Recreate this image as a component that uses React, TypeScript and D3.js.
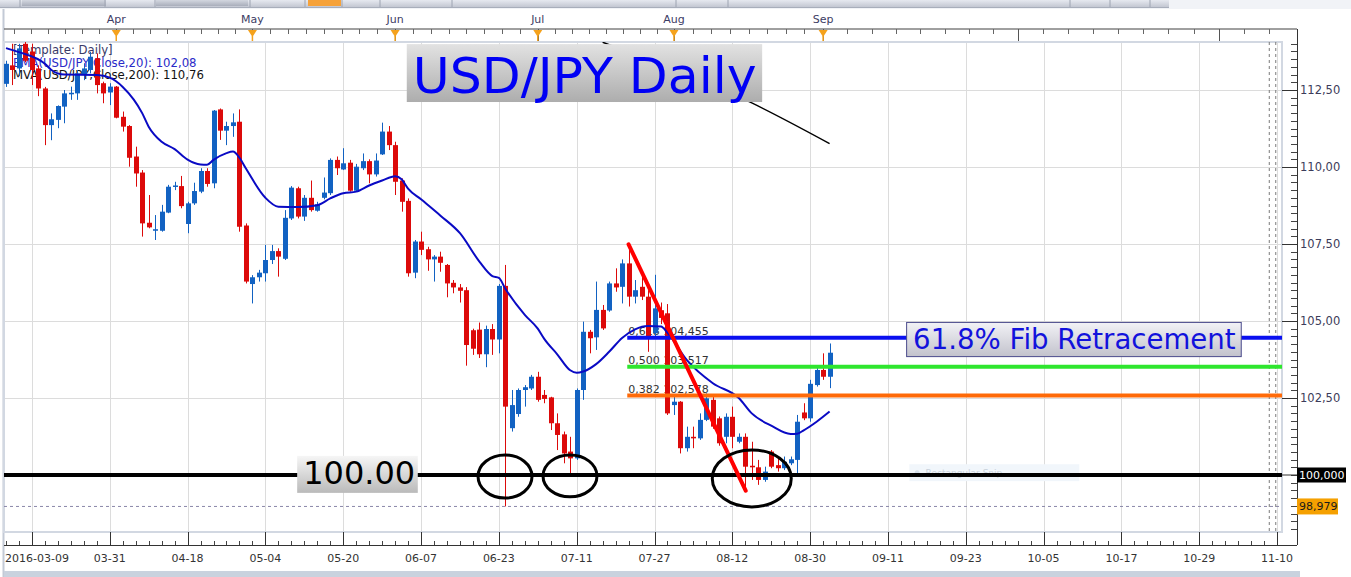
import React from "react";
import * as d3 from "d3";

const W = 1351;
const H = 577;

// ---- Candles (trading-day index 0 = 2016-03-09) ----
const opens = [
  112.7, 113.3, 113.2, 114.0, 113.75, 113.2, 112.55, 111.36, 111.53, 111.96,
  112.36, 112.39, 112.99, 113.15, 113.53, 112.72, 112.42, 112.61, 111.63, 111.33,
  110.34, 109.82, 108.19, 107.93, 107.93, 108.52, 109.36, 109.38, 108.15, 108.82,
  109.2, 109.87, 109.47, 111.87, 111.18, 111.33, 111.47, 108.1, 106.2, 106.42,
  106.55, 106.98, 107.27, 107.02, 108.33, 109.31, 108.39, 109.0, 108.58, 109.0,
  109.15, 110.23, 109.92, 110.14, 109.23, 109.96, 110.19, 109.76, 110.41, 111.15,
  110.71, 109.56, 108.9, 106.57, 107.58, 107.33, 107.0, 107.09, 106.82, 106.24,
  106.09, 106.0, 104.7, 104.72, 103.92, 104.74, 104.4, 106.14, 101.52, 101.98,
  102.76, 102.81, 103.19, 102.6, 102.52, 101.68, 101.32, 100.76, 100.54, 102.76,
  104.65, 104.47, 105.36, 105.34, 106.22, 106.11, 106.87, 105.79, 106.11, 105.79,
  104.6, 105.35, 105.25, 102.27, 102.38, 100.87, 101.24, 101.19, 101.79, 102.44,
  101.84, 101.24, 101.89, 101.08, 101.24, 100.3, 100.25, 99.84, 100.76, 100.32,
  100.22, 100.38, 100.49, 102.03, 101.84, 102.92, 103.41, 103.19,
];
const highs = [
  113.45, 114.0, 114.0, 114.1, 114.0, 113.3, 112.6, 111.74, 112.0, 112.5,
  112.61, 113.15, 113.37, 113.74, 113.69, 112.77, 112.72, 112.63, 111.8, 111.36,
  110.66, 109.9, 109.09, 108.44, 108.77, 109.42, 109.52, 109.71, 108.87, 109.49,
  109.96, 109.96, 111.85, 111.9, 111.47, 111.74, 111.87, 108.17, 106.49, 106.66,
  107.47, 107.47, 107.36, 108.6, 109.38, 109.36, 109.09, 109.56, 108.87, 109.66,
  110.28, 110.34, 110.61, 110.23, 110.1, 110.44, 110.25, 110.44, 111.44, 111.33,
  110.82, 109.63, 108.98, 107.63, 107.9, 107.41, 107.14, 107.25, 106.85, 106.33,
  106.2, 106.1, 104.75, 104.95, 104.85, 104.9, 106.2, 106.82, 102.76, 102.81,
  102.92, 103.25, 103.35, 102.76, 102.54, 102.0, 101.41, 101.24, 102.81, 104.98,
  104.71, 106.28, 105.52, 106.28, 106.71, 107.0, 107.45, 106.33, 106.49, 106.0,
  106.5, 105.6, 105.55, 102.55, 102.4, 101.57, 101.57, 102.0, 102.65, 102.6,
  101.9, 102.0, 102.22, 101.35, 101.35, 101.08, 100.49, 100.27, 100.81, 100.6,
  100.6, 100.6, 101.95, 102.33, 103.09, 103.52, 103.95, 104.27,
];
const lows = [
  112.6, 112.66, 112.95, 113.4, 112.66, 112.3, 110.71, 110.87, 111.26, 111.42,
  112.18, 112.18, 112.82, 113.04, 112.39, 112.07, 112.01, 111.58, 111.15, 110.01,
  109.36, 107.74, 108.01, 107.63, 107.9, 108.5, 109.25, 108.66, 107.85, 108.77,
  109.15, 109.36, 109.31, 110.88, 110.71, 110.98, 107.9, 106.22, 105.57, 106.28,
  106.28, 106.85, 106.44, 106.98, 108.28, 108.33, 108.25, 108.55, 108.55, 108.95,
  109.09, 109.74, 109.9, 109.2, 109.2, 109.9, 109.47, 109.69, 110.39, 110.55,
  109.09, 108.55, 106.44, 106.39, 107.14, 106.63, 106.28, 106.6, 105.77, 105.9,
  105.6, 103.55, 103.9, 103.8, 103.5, 103.9, 103.95, 98.98, 101.41, 101.89,
  102.22, 102.76, 102.38, 102.33, 101.46, 100.81, 100.38, 100.05, 100.49, 102.44,
  103.95, 104.06, 104.71, 105.3, 105.95, 105.57, 105.47, 105.57, 105.68, 104.0,
  104.5, 104.9, 101.95, 101.95, 100.7, 100.76, 100.87, 101.14, 101.75, 101.5,
  100.95, 101.03, 100.87, 101.03, 99.51, 99.84, 99.68, 99.78, 100.22, 100.11,
  100.16, 100.32, 100.0, 101.78, 101.73, 102.87, 103.09, 102.82,
];
const closes = [
  113.35, 113.15, 113.85, 113.45, 113.15, 112.55, 111.36, 111.55, 111.98, 112.39,
  112.41, 113.04, 113.2, 113.58, 112.66, 112.39, 112.61, 111.6, 111.31, 110.3,
  109.79, 108.17, 108.04, 107.98, 108.55, 109.36, 109.4, 108.73, 108.82, 109.22,
  109.87, 109.45, 111.83, 111.18, 111.33, 111.45, 108.06, 106.28, 106.42, 106.57,
  106.98, 107.27, 107.09, 108.35, 109.33, 108.39, 109.0, 108.6, 108.79, 109.17,
  110.23, 109.96, 110.12, 109.23, 110.01, 110.19, 109.76, 110.21, 111.15, 110.71,
  109.52, 108.87, 106.55, 107.58, 107.31, 107.0, 107.09, 106.89, 106.22, 106.09,
  105.98, 104.22, 104.1, 103.92, 104.74, 104.4, 106.14, 102.22, 102.27, 102.76,
  102.85, 103.19, 102.44, 102.47, 101.68, 101.3, 100.7, 100.54, 102.76, 104.65,
  104.44, 105.36, 104.76, 106.22, 106.09, 106.87, 105.79, 106.0, 105.79, 104.5,
  105.41, 105.1, 102.0, 102.38, 100.87, 101.24, 101.19, 101.79, 102.49, 101.57,
  101.03, 101.89, 101.24, 101.24, 100.27, 100.25, 99.84, 100.11, 100.27, 100.22,
  100.43, 100.51, 101.73, 101.84, 102.96, 103.41, 103.19, 103.97,
];

// ---- EMA(20) ----
const emaIdx = [0, 2, 6, 7, 9, 14, 16, 18, 21, 22, 24, 26, 28, 30, 31, 32, 34, 35, 36, 37, 40, 42, 45, 48, 50, 52, 54, 56, 58, 60, 61, 62, 64, 67, 70, 73, 75, 76, 77, 80, 82, 83, 85, 87, 88, 89, 91, 93, 95, 97, 99, 101, 102, 105, 109, 113, 115, 118, 121, 122, 123, 125, 127];
const emaVal = [113.86, 113.73, 113.35, 113.15, 113.0, 112.99, 112.9, 112.6, 111.75, 111.31, 110.82, 110.58, 110.24, 110.08, 110.07, 110.23, 110.45, 110.5, 110.3, 109.95, 109.0, 108.71, 108.7, 108.76, 108.98, 109.15, 109.2, 109.4, 109.56, 109.7, 109.6, 109.3, 108.95, 108.42, 107.85, 106.93, 106.46, 106.4, 106.05, 105.2, 104.75, 104.42, 103.92, 103.4, 103.32, 103.36, 103.6, 104.0, 104.45, 104.73, 104.84, 104.82, 104.62, 103.73, 102.98, 102.5, 102.0, 101.6, 101.33, 101.34, 101.45, 101.73, 102.06];

// ---- MVA(200) visible part ----
const maIdx = [92, 115, 127];
const maVal = [114.05, 112.08, 110.76];

// ---- Axes ----
const firstDateLabel = "2016-03-09";
const dateLabels = ["03-31", "04-18", "05-04", "05-20", "06-07", "06-23", "07-11", "07-27", "08-12", "08-30", "09-11", "09-23", "10-05", "10-17", "10-29", "11-10"];
const dateLabelStart = 16;
const dateStep = 12;
const gridStart = 4;
const lastIdx = 196;

const monthLabels = ["Apr", "May", "Jun", "Jul", "Aug", "Sep", "", ""];
const monthIdx = [17, 38, 60, 82, 103, 126, 156, 187];

const priceTicks = [112.5, 110, 107.5, 105, 102.5];
const priceTickLabels = ["112,50", "110,00", "107,50", "105,00", "102,50"];

// ---- Fibonacci ----
const fibRatios = ["0,618", "0,500", "0,382"];
const fibLevels = [104.455, 103.517, 102.578];
const fibValueLabels = ["104,455", "103,517", "102,578"];
const fibColors = ["#0a10f0", "#2ee62e", "#ff6a08"];
const fibStartIdx = 95.8;

// ---- Annotations (data units) ----
const trendFrom = [96, 107.49];
const trendTo = [114.06, 99.49];
const ellipses = [
  { i: 76.95, p: 99.95, ri: 4.16, rp: 0.7 },
  { i: 86.97, p: 99.97, ri: 4.16, rp: 0.68 },
  { i: 115.0, p: 99.89, ri: 6.09, rp: 0.925 },
];
const lowLevel = 98.979;
const lowLabel = "98,979";
const supportLevel = 100;
const supportLabel = "100,000";
const todayIdx = [194.8, 195.8];

const title = "USD/JPY Daily";
const titleBox = { i0: 61.8, i1: 116.6, p0: 113.99, p1: 112.11 };
const fibText = "61.8% Fib Retracement";
const fibBox = { i0: 138.8, i1: 190.4, p0: 104.97, p1: 103.86 };
const supportText = "100.00";
const supportBox = { i0: 44.9, i1: 63.5, p0: 100.62, p1: 99.42 };

const legendLines = ["[Template: Daily]", "EMA(USD/JPY,Close,20): 102,08", "MVA(USD/JPY,Close,200): 110,76"];
const legendColors = ["#3a3a68", "#2a2ac8", "#111111"];

const FONT = "'DejaVu Sans', Verdana, sans-serif";

export default function App() {
  const plotL = 4, plotR = 1282, plotT = 42, plotB = 532;
  const axisX = 1297;
  const topAxisY = 29;
  const botAxisY = 545;

  const x = d3.scaleLinear().domain([0, 196]).range([6, 1277.06]);
  const y = d3.scaleLinear().domain([100, 112.5]).range([475, 90]);

  const up = "#1262c2";
  const down = "#dc0a0a";

  const idx = d3.range(opens.length);

  const emaPath = d3.line<number>().x((k) => x(emaIdx[k])).y((k) => y(emaVal[k])).curve(d3.curveMonotoneX)(d3.range(emaIdx.length)) || "";
  const maPath = d3.line<number>().x((k) => x(maIdx[k])).y((k) => y(maVal[k])).curve(d3.curveMonotoneX)(d3.range(maIdx.length)) || "";

  const gridIdx = d3.range(gridStart, lastIdx + 0.1, dateStep);
  const minorBottom = d3.range(0, lastIdx + 0.1, 2);

  const topTicks: number[] = [];
  for (let k = 0; k < monthIdx.length - 1; k++) {
    const a = monthIdx[k], b = monthIdx[k + 1];
    for (let j = 0; j < 8; j++) topTicks.push(a + ((b - a) * j) / 8);
  }
  {
    const s0 = (monthIdx[1] - monthIdx[0]) / 8;
    for (let t = monthIdx[0] - s0; t >= 0; t -= s0) topTicks.push(t);
    const n = monthIdx.length;
    const s1 = (monthIdx[n - 1] - monthIdx[n - 2]) / 8;
    for (let t = monthIdx[n - 1]; t <= lastIdx + 2; t += s1) topTicks.push(t);
  }

  const yMinor = d3.range(98.25, 114.01, 0.25);

  const gradBox = (id: string, a: string, b: string) => (
    <linearGradient id={id} x1="0" y1="0" x2="0" y2="1">
      <stop offset="0" stopColor={a} />
      <stop offset="1" stopColor={b} />
    </linearGradient>
  );

  return (
    <svg width={W} height={H} style={{ position: "absolute", left: 0, top: 0, background: "#fff" }} fontFamily={FONT}>
      <defs>
        {gradBox("gTitle", "#e2e2e2", "#adadad")}
        {gradBox("gFib", "#f2f2f6", "#c2c2cc")}
        {gradBox("gSup", "#f6f6f6", "#bababa")}
        {gradBox("gBar", "#e6e9f0", "#c3c7d2")}
        {gradBox("gBtn", "#d3d7e0", "#a9aebb")}
        <clipPath id="plotClip">
          <rect x={plotL} y={plotT} width={plotR - plotL} height={plotB - plotT} />
        </clipPath>
      </defs>
      <rect x={0} y={0} width={W} height={H} fill="#ffffff" />

      {/* toolbar remnants */}
      <rect x={0} y={0} width={W} height={9} fill="#f1f3f7" />
      <rect x={0} y={0} width={1169} height={7} fill="url(#gBar)" />
      <rect x={22} y={0} width={84} height={6} fill="url(#gBtn)" />
      <rect x={156} y={0} width={92} height={6} fill="url(#gBtn)" />
      <rect x={308} y={0} width={33} height={6} fill="#f6a23a" />
      {[20, 105, 155, 250, 305, 342, 380, 452, 676, 728, 1070, 1110, 1150].map((sx) => (
        <line key={sx} x1={sx} x2={sx} y1={0} y2={7} stroke="#9ea4b2" strokeWidth={1} />
      ))}
      <line x1={0} x2={1169} y1={7.5} y2={7.5} stroke="#a8aebb" strokeWidth={1} />

      {/* left border */}
      <line x1={3.5} x2={3.5} y1={9} y2={577} stroke="#c3cad6" strokeWidth={2} />

      {/* top month axis */}
      <line x1={plotL} x2={axisX} y1={topAxisY} y2={topAxisY} stroke="#404040" strokeWidth={1} />
      {topTicks.map((t, k) => {
        const major = monthIdx.includes(t);
        return (
          <line key={"tt" + k} x1={Math.round(x(t)) + 0.5} x2={Math.round(x(t)) + 0.5} y1={topAxisY} y2={major ? plotT : topAxisY + 5} stroke={major ? "#555" : "#666"} strokeWidth={1} />
        );
      })}
      {monthLabels.map((m, k) =>
        m ? (
          <g key={"m" + k}>
            <text x={x(monthIdx[k])} y={23} textAnchor="middle" fontSize={11} fill="#3c3c64">{m}</text>
            <path d={`M${x(monthIdx[k]) - 4.5},${topAxisY + 1} L${x(monthIdx[k]) + 4.5},${topAxisY + 1} L${x(monthIdx[k])},${topAxisY + 8} Z`} fill="#f5a21c" />
            <line x1={x(monthIdx[k])} x2={x(monthIdx[k])} y1={topAxisY + 7} y2={plotT} stroke="#f5a21c" strokeWidth={1.5} />
          </g>
        ) : null
      )}

      {/* grid */}
      {gridIdx.map((g) => (
        <line key={"gv" + g} x1={Math.round(x(g)) + 0.5} x2={Math.round(x(g)) + 0.5} y1={plotT} y2={plotB} stroke="#dcdcdc" strokeWidth={1} />
      ))}
      {priceTicks.map((p) => (
        <line key={"gh" + p} x1={plotL} x2={plotR} y1={Math.round(y(p)) + 0.5} y2={Math.round(y(p)) + 0.5} stroke="#dcdcdc" strokeWidth={1} />
      ))}

      {/* plot frame */}
      <rect x={plotL} y={plotT} width={plotR - plotL} height={plotB - plotT} fill="none" stroke="#d2d8e2" strokeWidth={2} />

      {/* today dashed verticals */}
      {todayIdx.map((t) => (
        <line key={"td" + t} x1={x(t)} x2={x(t)} y1={plotT} y2={plotB} stroke="#7a7a7a" strokeWidth={1} strokeDasharray="3,3" />
      ))}

      {/* low dashed */}
      <line x1={plotL} x2={plotR} y1={y(lowLevel)} y2={y(lowLevel)} stroke="#8a86a8" strokeWidth={1} strokeDasharray="3,3" />

      {/* faint snip box */}
      <rect x={x(139.3)} y={y(100.35)} width={x(165.5) - x(139.3)} height={y(99.8) - y(100.35)} fill="#f1f6fb" />
      <circle cx={x(140.5)} cy={(y(100.35) + y(99.8)) / 2} r={2.5} fill="#d4dfea" />
      <text x={x(141.8)} y={(y(100.35) + y(99.8)) / 2 + 3} fontSize={9} fill="#c8d1da">Rectangular Snip</text>

      {/* legend */}
      {legendLines.map((t, k) => (
        <text key={"lg" + k} x={13} y={54 + k * 12.5} fontSize={11.7} fill={legendColors[k]}>{t}</text>
      ))}

      {/* fib text labels (under candles) */}
      {fibLevels.map((lv, k) => (
        <text key={"fl" + k} x={x(fibStartIdx) + 1} y={y(lv) - 3} fontSize={11} fill="#333">{`${fibRatios[k]} ${fibValueLabels[k]}`}</text>
      ))}

      <g clipPath="url(#plotClip)">
        {idx.map((i) => {
          const o = opens[i], c = closes[i];
          const col = c >= o ? up : down;
          const cx = Math.round(x(i));
          const top = y(Math.max(o, c));
          const bot = y(Math.min(o, c));
          return (
            <g key={"c" + i}>
              <line x1={cx + 0.5} x2={cx + 0.5} y1={y(highs[i])} y2={y(lows[i])} stroke={col} strokeWidth={1} />
              <rect x={cx - 2} y={top} width={5} height={Math.max(1.5, bot - top)} fill={col} />
            </g>
          );
        })}

        <path d={maPath} fill="none" stroke="#000" strokeWidth={1.5} />
        <path d={emaPath} fill="none" stroke="#0a0ac4" strokeWidth={2} />

        {fibLevels.map((lv, k) => (
          <line key={"fib" + k} x1={x(fibStartIdx)} x2={plotR} y1={y(lv)} y2={y(lv)} stroke={fibColors[k]} strokeWidth={4} />
        ))}

        <line x1={plotL} x2={plotR} y1={y(supportLevel)} y2={y(supportLevel)} stroke="#000" strokeWidth={4} />

        <line x1={x(trendFrom[0])} y1={y(trendFrom[1])} x2={x(trendTo[0])} y2={y(trendTo[1])} stroke="#ff0000" strokeWidth={4} strokeLinecap="round" />

        {ellipses.map((e, k) => (
          <ellipse key={"e" + k} cx={x(e.i)} cy={y(e.p)} rx={x(e.i + e.ri) - x(e.i)} ry={y(e.p - e.rp) - y(e.p)} fill="none" stroke="#000" strokeWidth={3} />
        ))}
      </g>

      {/* title box */}
      <rect x={x(titleBox.i0)} y={y(titleBox.p0)} width={x(titleBox.i1) - x(titleBox.i0)} height={y(titleBox.p1) - y(titleBox.p0)} fill="url(#gTitle)" />
      <text x={x(titleBox.i0) + 6} y={y(titleBox.p0) + 49} fontSize={50.5} fill="#0000f4">{title}</text>

      {/* fib box */}
      <rect x={x(fibBox.i0) + 0.5} y={y(fibBox.p0) + 0.5} width={x(fibBox.i1) - x(fibBox.i0)} height={y(fibBox.p1) - y(fibBox.p0)} fill="url(#gFib)" stroke="#4b4b8c" strokeWidth={1} />
      <text x={x(fibBox.i0) + 7} y={y(fibBox.p0) + 27} fontSize={27.6} fill="#1212dc">{fibText}</text>

      {/* 100 box */}
      <rect x={x(supportBox.i0)} y={y(supportBox.p0)} width={x(supportBox.i1) - x(supportBox.i0)} height={y(supportBox.p1) - y(supportBox.p0)} fill="url(#gSup)" />
      <text x={x(supportBox.i0) + 6} y={y(supportBox.p0) + 28} fontSize={32} fill="#000">{supportText}</text>

      {/* right axis */}
      <line x1={axisX + 0.5} x2={axisX + 0.5} y1={topAxisY} y2={botAxisY} stroke="#333" strokeWidth={1} />
      {yMinor.map((p) => (
        <line key={"ym" + p} x1={axisX - 6} x2={axisX} y1={Math.round(y(p)) + 0.5} y2={Math.round(y(p)) + 0.5} stroke="#444" strokeWidth={1} />
      ))}
      {priceTicks.map((p, k) => (
        <g key={"yt" + p}>
          <line x1={plotR} x2={axisX} y1={Math.round(y(p)) + 0.5} y2={Math.round(y(p)) + 0.5} stroke="#333" strokeWidth={1} />
          <text x={axisX + 3} y={y(p) + 4} fontSize={11.5} fill="#3c3c5a">{priceTickLabels[k]}</text>
        </g>
      ))}
      <line x1={plotR} x2={axisX} y1={y(supportLevel)} y2={y(supportLevel)} stroke="#333" strokeWidth={1} />
      <rect x={axisX} y={y(supportLevel) - 7.5} width={49} height={15} fill="#000" />
      <text x={axisX + 2} y={y(supportLevel) + 4} fontSize={11} fill="#fff">{supportLabel}</text>
      <rect x={axisX} y={y(lowLevel) - 8} width={41} height={16} fill="#f5a000" />
      <text x={axisX + 2} y={y(lowLevel) + 4} fontSize={11} fill="#1a1a1a">{lowLabel}</text>

      {/* bottom axis */}
      <line x1={plotL} x2={axisX} y1={botAxisY + 0.5} y2={botAxisY + 0.5} stroke="#333" strokeWidth={1} />
      {minorBottom.map((t) => (
        <line key={"bm" + t} x1={Math.round(x(t)) + 0.5} x2={Math.round(x(t)) + 0.5} y1={botAxisY - 4} y2={botAxisY} stroke="#444" strokeWidth={1} />
      ))}
      {gridIdx.map((g) => (
        <line key={"bM" + g} x1={Math.round(x(g)) + 0.5} x2={Math.round(x(g)) + 0.5} y1={plotB} y2={botAxisY} stroke="#333" strokeWidth={1} />
      ))}
      <text x={5} y={562} fontSize={11} fill="#333">{firstDateLabel}</text>
      {dateLabels.map((d, k) => (
        <text key={"dl" + k} x={x(dateLabelStart + k * dateStep)} y={562} fontSize={11} fill="#333" textAnchor="middle">{d}</text>
      ))}

      <rect x={4} y={571} width={1296} height={6} fill="#c9d2de" />
    </svg>
  );
}
